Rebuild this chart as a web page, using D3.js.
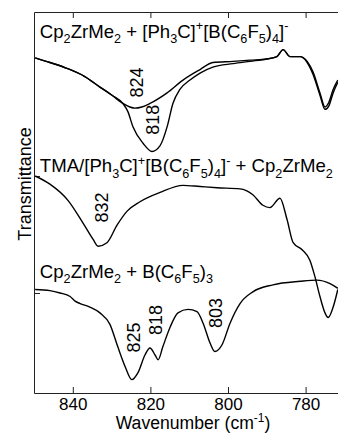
<!DOCTYPE html>
<html>
<head>
<meta charset="utf-8">
<script src="https://cdn.jsdelivr.net/npm/d3@7"></script>
<style>
  body { margin: 0; background: #fff; }
  text { font-family: "Liberation Sans", Arial, sans-serif; fill: #000; }
</style>
</head>
<body>
<script>
// wavenumber (cm-1) / transmittance (arb. units, offset)
const shallow = [
  [849.7, 3.01], [845.9, 2.97], [841.5, 2.92], [836.9, 2.85], [833.0, 2.76],
  [829.9, 2.69], [827.1, 2.62], [825.3, 2.59], [824.0, 2.58], [822.2, 2.59],
  [820.1, 2.62], [815.7, 2.71], [811.6, 2.82], [807.2, 2.91], [803.9, 2.97],
  [798.7, 2.98], [794.3, 2.99], [790.0, 3.00], [787.4, 3.02], [785.8, 3.08],
  [784.0, 3.02], [781.4, 3.02], [779.6, 2.98], [778.1, 2.89], [776.3, 2.71],
  [775.0, 2.59], [774.0, 2.63], [772.9, 2.74], [771.7, 2.82]
];
const deep = [
  [849.7, 3.01], [845.9, 2.97], [841.5, 2.92], [836.9, 2.85], [833.0, 2.76],
  [829.9, 2.69], [827.1, 2.62], [825.8, 2.55], [824.5, 2.42], [821.9, 2.28],
  [819.6, 2.21], [817.5, 2.26], [815.7, 2.42], [814.2, 2.62], [812.4, 2.74],
  [809.8, 2.82], [807.2, 2.88], [803.9, 2.93], [798.7, 2.96], [794.3, 2.98],
  [790.0, 3.00], [787.4, 3.02], [785.8, 3.08], [784.0, 3.02], [781.4, 3.02],
  [779.6, 2.97], [778.1, 2.87], [776.3, 2.69], [775.0, 2.57], [774.0, 2.60],
  [772.9, 2.71], [771.7, 2.80]
];
const tma = [
  [849.7, 2.00], [845.9, 1.93], [841.2, 1.79], [837.4, 1.60], [834.8, 1.46],
  [833.5, 1.40], [831.2, 1.43], [828.6, 1.58], [826.0, 1.70], [822.7, 1.78],
  [817.5, 1.86], [811.6, 1.92], [807.2, 1.91], [802.8, 1.90], [796.9, 1.89],
  [793.6, 1.84], [791.0, 1.75], [789.2, 1.73], [786.6, 1.81], [784.8, 1.63],
  [783.2, 1.43], [780.9, 1.37], [778.9, 1.28], [777.6, 1.14], [776.3, 0.97],
  [775.0, 0.83], [774.2, 0.79], [772.9, 0.88], [771.7, 1.03]
];
const borane = [
  [849.7, 1.03], [845.9, 1.02], [843.3, 1.00], [840.7, 0.97], [839.4, 0.93],
  [838.1, 0.91], [835.6, 0.88], [833.0, 0.83], [830.4, 0.73], [828.4, 0.54],
  [826.5, 0.37], [824.8, 0.26], [823.2, 0.32], [821.4, 0.47], [820.1, 0.53],
  [818.8, 0.47], [818.0, 0.43], [816.8, 0.54], [814.9, 0.71], [812.9, 0.83],
  [810.3, 0.86], [808.0, 0.84], [806.4, 0.74], [804.6, 0.57], [803.4, 0.50],
  [801.5, 0.56], [799.5, 0.74], [796.9, 0.91], [793.6, 1.01], [788.4, 1.07],
  [781.4, 1.10], [777.1, 1.11], [773.7, 1.08], [771.7, 1.04]
];
const seriesTitles = [
  { text: 'Cp_{2}ZrMe_{2} + [Ph_{3}C]^{+}[B(C_{6}F_{5})_{4}]^{-}', v: 3.18 },
  { text: 'TMA/[Ph_{3}C]^{+}[B(C_{6}F_{5})_{4}]^{-} + Cp_{2}ZrMe_{2}', v: 2.03 },
  { text: 'Cp_{2}ZrMe_{2} + B(C_{6}F_{5})_{3}', v: 1.13 }
];
const peakLabels = [
  { text: '824', w: 823.5, v: 2.80 },
  { text: '818', w: 819.3, v: 2.48 },
  { text: '832', w: 832.5, v: 1.73 },
  { text: '825', w: 824.2, v: 0.62 },
  { text: '818', w: 818.6, v: 0.77 },
  { text: '803', w: 803.1, v: 0.83 }
];
const xTicks = [840, 820, 800, 780];
const yTicks = [1, 2];

const width = 338, height = 435;
const margin = { top: 12, right: 0, bottom: 42, left: 34 };
const fs = 18;

const svg = d3.select('body').append('svg')
  .attr('width', width).attr('height', height);

const x = d3.scaleLinear().domain([850, 771.65]).range([margin.left, width - margin.right]);
const y = d3.scaleLinear().domain([0.1453, 3.4017]).range([height - margin.bottom, margin.top]);

// rich text: _{sub} ^{sup}
function rich(sel, str, size) {
  const parts = str.split(/(_\{[^}]*\}|\^\{[^}]*\})/).filter(s => s.length);
  let shift = 0;
  parts.forEach(p => {
    let target = 0, txt = p, small = false;
    if (p[0] === '_') { target = 0.28 * size; txt = p.slice(2, -1); small = true; }
    else if (p[0] === '^') { target = -0.42 * size; txt = p.slice(2, -1); small = true; }
    sel.append('tspan')
      .attr('dy', target - shift)
      .attr('font-size', small ? size * 0.68 : size)
      .text(txt);
    shift = target;
  });
}

// frame + ticks
svg.append('g')
  .attr('transform', `translate(0,${height - margin.bottom})`)
  .call(d3.axisBottom(x).tickValues(xTicks).tickSize(-6).tickPadding(5).tickSizeOuter(0))
  .call(g => g.selectAll('text').attr('font-size', 17).attr('font-family', null));
svg.append('g')
  .attr('transform', `translate(0,${margin.top})`)
  .call(d3.axisTop(x).tickValues(xTicks).tickSize(-6).tickSizeOuter(0).tickFormat(''));
svg.append('g')
  .attr('transform', `translate(${margin.left},0)`)
  .call(d3.axisLeft(y).tickValues(yTicks).tickSize(-6).tickSizeOuter(0).tickFormat(''));
svg.selectAll('.domain, .tick line').attr('stroke', '#222').attr('stroke-width', 1);

// spectra
const line = d3.line().x(d => x(d[0])).y(d => y(d[1])).curve(d3.curveMonotoneX);
[shallow, deep, tma, borane].forEach(s => {
  svg.append('path').datum(s)
    .attr('fill', 'none').attr('stroke', '#000').attr('stroke-width', 1.4)
    .attr('d', line);
});

// series titles
seriesTitles.forEach(t => {
  const el = svg.append('text').attr('x', x(848.5)).attr('y', y(t.v));
  rich(el, t.text, 18.6);
});

// peak labels
peakLabels.forEach(p => {
  svg.append('text')
    .attr('transform', `translate(${x(p.w)},${y(p.v)}) rotate(-90)`)
    .attr('text-anchor', 'middle').attr('dominant-baseline', 'central')
    .attr('font-size', fs).text(p.text);
});

// axis titles
const xt = svg.append('text').attr('x', 193).attr('y', 429)
  .attr('text-anchor', 'middle');
rich(xt, 'Wavenumber (cm^{-1})', 17.6);
svg.append('text')
  .attr('transform', `translate(25,184) rotate(-90)`)
  .attr('text-anchor', 'middle').attr('dominant-baseline', 'central')
  .attr('font-size', fs).text('Transmittance');
</script>
</body>
</html>
